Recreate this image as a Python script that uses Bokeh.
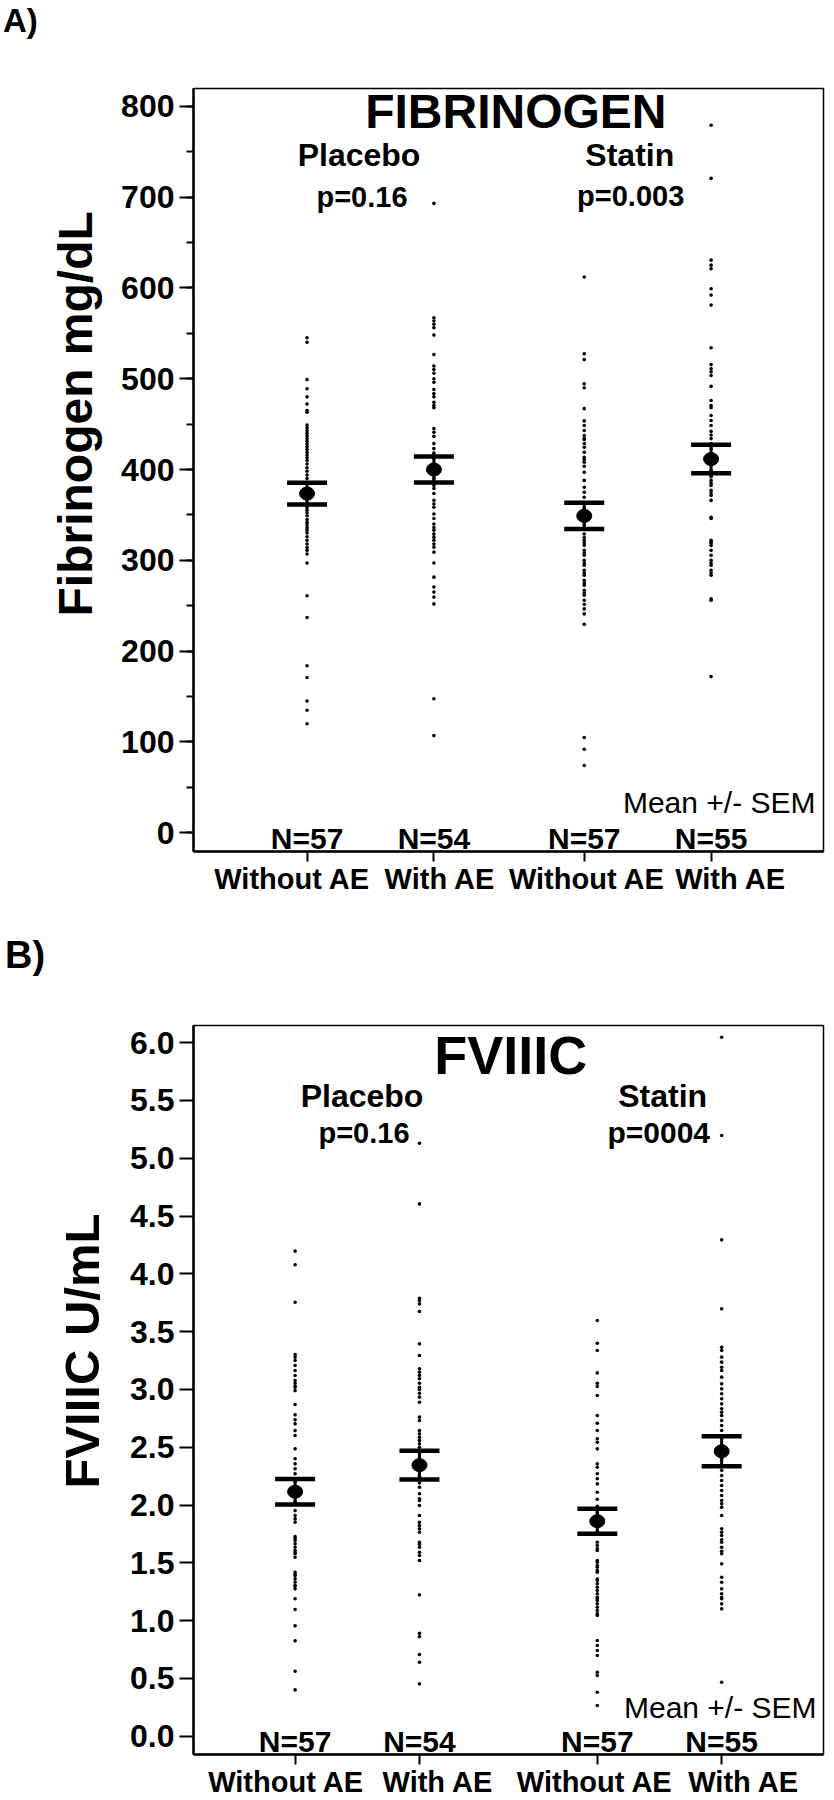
from bokeh.plotting import figure
from bokeh.models import (Range1d, SingleIntervalTicker, FixedTicker, Label, ColumnDataSource,
                          NumeralTickFormatter, CustomJSTickFormatter, Title, Div)
from bokeh.layouts import column
from bokeh.embed import file_html
from bokeh.resources import INLINE
from bokeh.core.properties import value

FONT = "Liberation Sans"

# ---------------- data ----------------
groups = ["Without AE", "With AE", "Without AE", "With AE"]
n_labels = ["N=57", "N=54", "N=57", "N=55"]

# Panel A: Fibrinogen (mg/dL)
fib_xpos = [1, 2, 3.185, 4.185]
fib_placebo_without = [545, 540, 499, 489, 480, 472, 465, 463, 449,
                       446, 443, 440, 437, 434, 431, 428, 425, 422, 419, 416, 413, 410, 406, 402, 398, 394, 390,
                       385, 380, 376, 371, 366, 362,
                       358, 355, 352, 349, 345, 342, 339, 336, 333, 330, 326, 322, 318, 314, 311, 307,
                       297, 261, 237, 184, 171, 145, 135, 120]
fib_placebo_with = [693, 567, 563.5, 560, 556, 548, 526.5, 514, 510, 506, 500, 496, 488, 483.5, 480, 474, 470.5, 468,
                    445, 441, 436.5, 428.5, 423, 418, 412, 406, 400, 395, 390,
                    382.5, 379, 373.5, 366, 362, 358.5, 351, 346, 340, 336, 333, 329, 325.5, 322, 318, 314.5, 309,
                    297, 281.5, 270.5, 265, 259.5, 252, 147.5, 107]
fib_statin_without = [612, 527.5, 521, 494.5, 490, 467, 453.5, 448.5, 443, 437.5, 434, 433, 428.5, 424.5, 419, 413.5,
                      411, 408, 403.5, 397, 388, 380.5, 375, 369.5, 364, 358, 352, 345, 339,
                      329, 325, 322, 319, 316.5, 311, 308, 305.5, 300, 297, 294.5, 289, 286, 283.5, 278, 275, 272.5,
                      267, 264, 261.5, 256, 251.5, 246.5, 241, 229.5, 105, 92, 74]
fib_statin_with = [779, 720.5, 630.5, 625, 621, 599, 592, 581, 534, 515.5, 511, 507.5, 503.5, 491.5, 476, 470.5, 468,
                   459.5, 454, 448.5, 442, 438, 434, 428.5, 423, 417, 411, 405, 399, 393.5, 392, 388, 385, 382.5,
                   377, 374, 371.5, 366, 347.5, 346, 322, 320, 319, 316.5, 311, 305.5, 300, 297, 294.5, 289, 286,
                   283.5, 257.5, 256, 172]
fib_mean = [373.5, 400.0, 349.0, 411.5]
fib_sem = [12.0, 14.3, 14.4, 15.7]

# Panel B: FVIIIC (U/mL)
f8_xpos = [1, 2, 3.43, 4.43]
f8_placebo_without = [4.196, 4.078, 3.754, 3.302, 3.279, 3.25, 3.207, 3.164, 3.12, 3.077, 3.054, 3.03, 3.019, 2.99,
                      2.869, 2.78, 2.737, 2.702, 2.644, 2.601, 2.486, 2.4, 2.356, 2.313, 2.27,
                      2.2, 2.16, 2.12, 2.07, 2.03,
                      1.952, 1.909, 1.88, 1.851, 1.728, 1.71, 1.693, 1.664, 1.635, 1.606, 1.59, 1.578, 1.548,
                      1.419, 1.4, 1.39, 1.362, 1.333, 1.304, 1.3, 1.275, 1.189, 1.096, 0.955, 0.825, 0.562, 0.401]
f8_placebo_with = [5.13, 4.605, 3.789, 3.769, 3.74, 3.674, 3.394, 3.293, 3.178, 3.149, 3.12, 3.092, 3.054, 3.019,
                   3.0, 2.967, 2.933, 2.889, 2.76, 2.731, 2.645, 2.616, 2.587, 2.559, 2.53, 2.5,
                   2.45, 2.4, 2.35, 2.3, 2.25, 2.19,
                   2.154, 2.097, 2.054, 2.039, 1.996, 1.909, 1.85, 1.822, 1.794, 1.765, 1.678, 1.66, 1.635, 1.592,
                   1.563, 1.52, 1.223, 0.891, 0.862, 0.707, 0.64, 0.453]
f8_statin_without = [3.596, 3.4, 3.337, 3.143, 3.054, 3.025, 2.947, 2.774, 2.708, 2.645, 2.573, 2.543, 2.486,
                     2.356, 2.327, 2.27, 2.227, 2.183, 2.111,
                     2.05, 1.99, 1.93, 1.88, 1.82, 1.77,
                     1.678, 1.65, 1.621, 1.606, 1.52, 1.505, 1.477, 1.462, 1.433, 1.419, 1.36, 1.347, 1.318, 1.289,
                     1.26, 1.232, 1.202, 1.19, 1.174, 1.145, 1.116, 1.087, 1.059, 1.044, 0.828, 0.785, 0.741,
                     0.698, 0.554, 0.525, 0.381, 0.266]
f8_statin_with = [6.047, 5.196, 4.294, 3.697, 3.365, 3.337, 3.279, 3.236, 3.192, 3.164, 3.106, 3.048, 3.005, 2.962,
                  2.919, 2.875, 2.832, 2.803, 2.774, 2.731, 2.688, 2.645,
                  2.58, 2.52, 2.46, 2.4, 2.35, 2.3,
                  2.255, 2.212, 2.169, 2.126, 2.083, 2.039, 2.01, 1.981, 1.909, 1.794, 1.765, 1.736, 1.7, 1.678,
                  1.635, 1.6, 1.578, 1.491, 1.375, 1.332, 1.275, 1.232, 1.2, 1.189, 1.145, 1.102, 0.467]
f8_mean = [2.115, 2.345, 1.86, 2.465]
f8_sem = [0.11, 0.125, 0.108, 0.13]


def label(p, x, y, text, size, bold=True, align="center"):
    p.add_layout(Label(x=x, y=y, text=text, text_font=FONT, text_font_size=f"{size}px",
                       text_font_style="bold" if bold else "normal", text_color="black",
                       text_align=align, text_baseline="middle"))


def make_panel(height, borders, xr, yr, xpos, label_shift, series, means, sems, yticker, yformatter,
               ytitle, ytitle_size, ytitle_offset, ytitle_standoff):
    p = figure(width=834, height=height, x_range=Range1d(*xr), y_range=Range1d(*yr),
               min_border_left=borders[0], min_border_right=borders[1],
               min_border_top=borders[2], min_border_bottom=borders[3],
               output_backend="svg", toolbar_location=None,
               background_fill_color="white", border_fill_color="white")
    p.xgrid.visible = False
    p.ygrid.visible = False
    p.outline_line_color = "black"
    p.outline_line_width = 1.5

    # individual points
    xs, ys = [], []
    for xp, vals in zip(xpos, series):
        xs.extend([xp] * len(vals))
        ys.extend(vals)
    p.scatter(xs, ys, size=3.6, color="black", line_width=0)

    # mean +/- SEM
    lo = [m - s for m, s in zip(means, sems)]
    hi = [m + s for m, s in zip(means, sems)]
    p.segment(x0=xpos, y0=lo, x1=xpos, y1=hi, line_color="black", line_width=3)
    p.scatter(xpos, lo, marker="dash", size=40, line_color="black", line_width=4.5)
    p.scatter(xpos, hi, marker="dash", size=40, line_color="black", line_width=4.5)
    p.ellipse(x=xpos, y=means, width=15, height=13, width_units="screen", height_units="screen",
              fill_color="black", line_color="black")

    # N labels inside the frame
    src = ColumnDataSource(dict(x=xpos, y=[yr[0] + (yr[1] - yr[0]) * 0.0175] * 4, t=n_labels))
    p.text(x="x", y="y", text="t", source=src, text_font=value(FONT), text_font_size="30px",
           text_font_style="bold", text_align="center", text_baseline="middle", text_color="black")

    # y axis
    ya = p.yaxis[0]
    ya.ticker = yticker
    if yformatter is not None:
        ya.formatter = yformatter
    ya.axis_line_width = 2.5
    ya.major_tick_line_width = 2
    ya.minor_tick_line_width = 2
    ya.major_tick_out = 14
    ya.major_tick_in = 0
    ya.minor_tick_out = 7
    ya.minor_tick_in = 0
    ya.major_label_text_font = FONT
    ya.major_label_text_font_size = "32px"
    ya.major_label_text_font_style = "bold"
    ya.major_label_text_color = "black"
    ya.major_label_standoff = 5

    # x axis: minor ticks mark the groups, labels sit at slightly shifted positions
    xa = p.xaxis[0]
    label_pos = [xp + d for xp, d in zip(xpos, label_shift)]
    xa.ticker = FixedTicker(ticks=label_pos, minor_ticks=xpos)
    xa.formatter = CustomJSTickFormatter(args=dict(names=groups), code="return names[index];")
    xa.axis_line_width = 2.5
    xa.major_tick_out = 10
    xa.major_tick_in = 0
    xa.major_tick_line_color = None
    xa.minor_tick_out = 10
    xa.minor_tick_in = 0
    xa.minor_tick_line_width = 2
    xa.minor_tick_line_color = "black"
    xa.major_label_text_font = FONT
    xa.major_label_text_font_size = "29px"
    xa.major_label_text_font_style = "bold"
    xa.major_label_text_color = "black"
    xa.major_label_standoff = 1

    # y axis title
    t = Title(text=ytitle, align="left", offset=ytitle_offset, standoff=ytitle_standoff,
              vertical_align="middle", text_font=FONT, text_font_size=f"{ytitle_size}px",
              text_font_style="bold", text_color="black")
    p.add_layout(t, "left")
    return p


def panel_tag(text, size, height, pad_top, pad_left):
    html = (f'<div style="font-family: \'{FONT}\'; font-weight: bold; font-size: {size}px; '
            f'line-height: 1.15; padding-top: {pad_top}px; padding-left: {pad_left}px; color: black;">{text}</div>')
    return Div(text=html, width=834, height=height, margin=(0, 0, 0, 0))


# ---------------- Panel A ----------------
tagA = panel_tag("A)", 33, 40, 2, 3)
pA = make_panel(885, (193, 10, 48, 74), (0.105, 5.071), (-20.6, 819.5), fib_xpos,
                [-0.117, 0.048, 0.021, 0.154],
                [fib_placebo_without, fib_placebo_with, fib_statin_without, fib_statin_with],
                fib_mean, fib_sem, SingleIntervalTicker(interval=100, num_minor_ticks=2), None,
                "Fibrinogen mg/dL", 48, 235, 31)

label(pA, 2.646, 793.9, "FIBRINOGEN", 48)
label(pA, 1.410, 746.6, "Placebo", 32)
label(pA, 1.433, 700.3, "p=0.16", 29)
label(pA, 3.544, 746.6, "Statin", 32)
label(pA, 3.551, 701.0, "p=0.003", 29)
label(pA, 5.008, 33.7, "Mean +/- SEM", 30, bold=False, align="right")

# ---------------- Panel B ----------------
tagB = panel_tag("B)", 38, 55, 9, 5)
pB = make_panel(820, (192, 11, 45, 46), (0.183, 5.249), (-0.158, 6.148), f8_xpos,
                [-0.072, 0.149, -0.02, 0.177],
                [f8_placebo_without, f8_placebo_with, f8_statin_without, f8_statin_with],
                f8_mean, f8_sem, SingleIntervalTicker(interval=0.5, num_minor_ticks=0),
                NumeralTickFormatter(format="0.0"),
                "FVIIIC U/mL", 49, 266, 36)

label(pB, 2.735, 5.897, "FVIIIC", 54)
label(pB, 1.538, 5.535, "Placebo", 32)
label(pB, 1.554, 5.221, "p=0.16", 29)
label(pB, 3.956, 5.535, "Statin", 32)
label(pB, 3.924, 5.221, "p=0004", 30)
label(pB, 5.193, 0.251, "Mean +/- SEM", 30, bold=False, align="right")

layout = column(tagA, pA, tagB, pB, spacing=0)
open("out.html", "w").write(file_html(layout, INLINE))
